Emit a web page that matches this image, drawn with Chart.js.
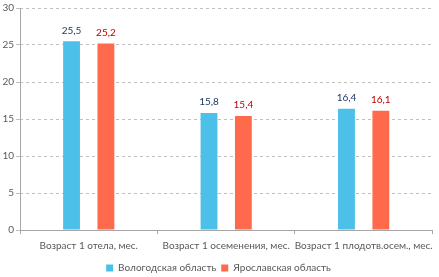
<!DOCTYPE html>
<html>
<head>
<meta charset="utf-8">
<script src="https://cdn.jsdelivr.net/npm/chart.js@4.4.0/dist/chart.umd.min.js"></script>
<style>
  html, body { margin: 0; padding: 0; background: #fff; }
  #wrap { width: 439px; height: 277px; position: relative; }
</style>
</head>
<body>
<div id="wrap"><canvas id="c"></canvas></div>
<script>
// данные с картинки
const categories = ['Возраст 1 отела, мес.', 'Возраст 1 осеменения, мес.', 'Возраст 1 плодотв.осем., мес.'];
const vologda = [25.5, 15.8, 16.4];
const yaroslavl = [25.2, 15.4, 16.1];
const seriesNames = ['Вологодская область', 'Ярославская область'];
const yTicks = [0, 5, 10, 15, 20, 25, 30];

const barColors = ['#4cc0e8', '#ff6a4c'];
const labelColors = ['#1f3864', '#c00000'];
const font = '"Lato", sans-serif';

// подписи над столбцами
const valueLabels = {
    id: 'valueLabels',
    afterDatasetsDraw(chart) {
        const ctx = chart.ctx;
        ctx.save();
        ctx.font = '10px ' + font;
        ctx.textAlign = 'center';
        ctx.textBaseline = 'bottom';
        chart.data.datasets.forEach((ds, i) => {
            const meta = chart.getDatasetMeta(i);
            meta.data.forEach((bar, j) => {
                ctx.fillStyle = labelColors[i];
                ctx.fillText(ds.data[j].toFixed(1).replace('.', ','), bar.x, bar.y - 6);
            });
        });
        ctx.restore();
    }
};

// сплошная линия оси Y (пунктир только у сетки)
const yAxisLine = {
    id: 'yAxisLine',
    afterDraw(chart) {
        const ctx = chart.ctx;
        const a = chart.chartArea;
        ctx.save();
        ctx.strokeStyle = '#a6a6a6';
        ctx.lineWidth = 1;
        ctx.beginPath();
        ctx.moveTo(Math.round(a.left) + 0.5, a.top);
        ctx.lineTo(Math.round(a.left) + 0.5, a.bottom + 1);
        ctx.stroke();
        ctx.restore();
    }
};

new Chart(document.getElementById('c'), {
    type: 'bar',
    data: {
        labels: categories,
        datasets: [
            { label: seriesNames[0], data: vologda, backgroundColor: barColors[0] },
            { label: seriesNames[1], data: yaroslavl, backgroundColor: barColors[1] }
        ]
    },
    options: {
        responsive: true,
        maintainAspectRatio: false,
        animation: false,
        devicePixelRatio: 1,
        layout: { padding: { top: 3, right: 2, left: 0, bottom: -6 } },
        datasets: { bar: { categoryPercentage: 0.5, barPercentage: 0.49 } },
        scales: {
            x: {
                grid: { display: true, drawOnChartArea: false, drawTicks: true, tickLength: 4, offset: true, color: '#a6a6a6' },
                border: { color: '#a6a6a6' },
                ticks: { color: '#595959', font: { family: font, size: 10 }, padding: 6, maxRotation: 0, autoSkip: false }
            },
            y: {
                min: 0,
                max: 30,
                afterFit(scale) { scale.width = 20; },
                afterBuildTicks(scale) { scale.ticks = yTicks.map(v => ({ value: v })); },
                grid: { color: '#bfbfbf', tickLength: 4, drawTicks: true },
                border: { display: false, dash: [3, 3] },
                ticks: { color: '#595959', font: { family: font, size: 10 }, padding: 2 }
            }
        },
        plugins: {
            legend: {
                position: 'bottom',
                labels: { boxWidth: 7, boxHeight: 7, color: '#595959', font: { family: font, size: 10 }, padding: 5 }
            },
            tooltip: { enabled: false }
        }
    },
    plugins: [valueLabels, yAxisLine]
});
</script>
</body>
</html>
